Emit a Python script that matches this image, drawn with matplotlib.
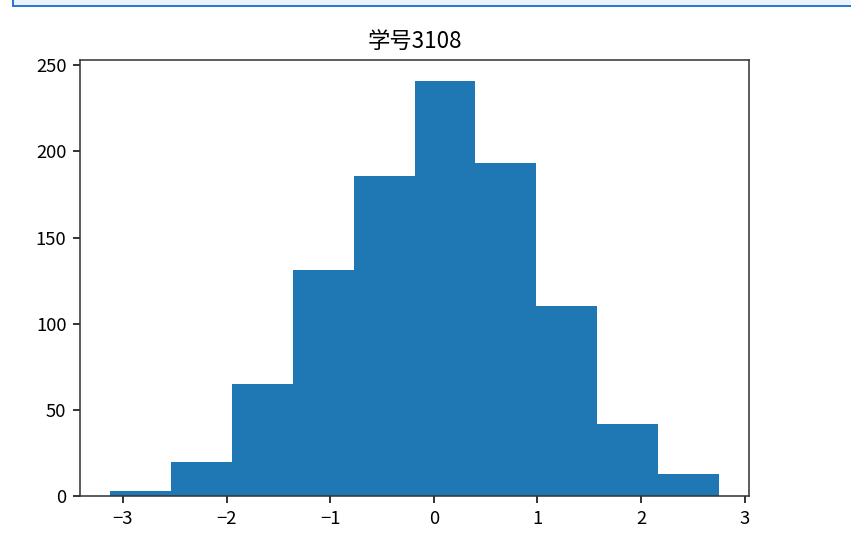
import numpy as np
import matplotlib
matplotlib.use("Agg")
import matplotlib.pyplot as plt
from matplotlib.patches import Rectangle

plt.rcParams["font.family"] = ["Noto Sans CJK SC", "DejaVu Sans"]

# histogram: 10 equal bins
bin_lo, bin_hi = -3.121, 2.749
counts = [3, 20, 65, 131, 186, 241, 193, 110, 42, 13]
title = "学号3108"

edges = np.linspace(bin_lo, bin_hi, len(counts) + 1)
centers = (edges[:-1] + edges[1:]) / 2

DPI = 140
fig = plt.figure(figsize=(851 / DPI, 549 / DPI), dpi=DPI)
ax = fig.add_axes([80 / 851, 53 / 549, 669 / 851, 436 / 549])
ax.hist(centers, bins=edges, weights=counts, color="#1f77b4")
ax.set_title(title, fontsize=11.5)
ax.tick_params(labelsize=9.5)
for s in ax.spines.values():
    s.set_color("#333333")

# notebook cell border left over from the screenshot
fig.add_artist(Rectangle((13 / 851, 1 - 6 / 549), 1.0, 0.1, transform=fig.transFigure,
                         facecolor="#eaf2fb", edgecolor="#2a74d0", lw=1.0, clip_on=False))

fig.savefig("out.png", dpi=DPI)
